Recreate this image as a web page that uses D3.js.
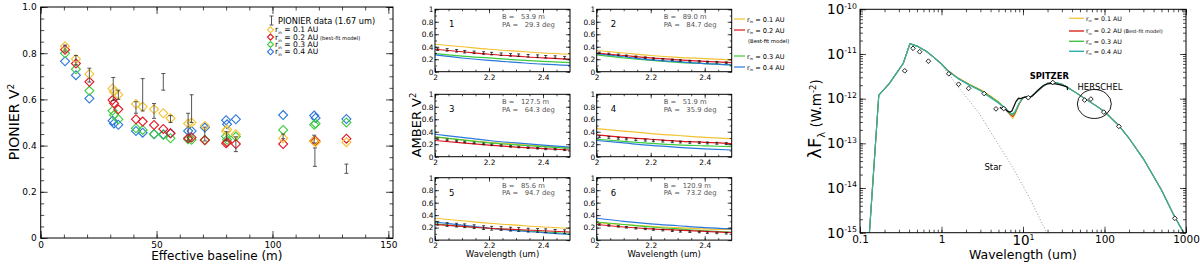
<!DOCTYPE html>
<html>
<head>
<meta charset="utf-8">
<script src="https://cdn.jsdelivr.net/npm/d3@7/dist/d3.min.js"></script>
<style>
  body { margin: 0; background: #fff; }
  svg { display: block; font-family: 'DejaVu Sans', sans-serif; }
</style>
</head>
<body>
<div class="chart"></div>
<script>
// ---------- data ----------
const rinValues = ['0.1', '0.2', '0.3', '0.4'];
const rinColors = ['#f2c230', '#e2141e', '#3ccc3c', '#2a78dc'];
const sedColors = ['#f2c84a', '#d8281e', '#46c046', '#2fb0b0'];

// PIONIER (left)
const pionBase = [10.5, 15.2, 21.0, 31.3, 33.5, 41.1, 44.0, 48.9, 52.9, 56.0, 63.6, 65.1, 70.8, 80.2, 84.2, 104.6, 118.0, 118.3, 131.9];
const pionV2 = [0.82, 0.77, 0.705, 0.645, 0.62, 0.565, 0.62, 0.55, 0.676, 0.515, 0.48, 0.56, 0.45, 0.44, 0.406, 0.44, 0.428, 0.35, 0.30];
const pionErr = [0.015, 0.02, 0.03, 0.05, 0.02, 0.025, 0.07, 0.032, 0.036, 0.015, 0.06, 0.06, 0.03, 0.02, 0.032, 0.01, 0.017, 0.04, 0.02];

const modelBase = [10.5, 15.2, 21.0, 31.0, 31.6, 33.5, 41.1, 44.0, 48.9, 52.9, 56.0, 63.6, 65.1, 70.8, 80.0, 80.4, 84.2, 104.6, 118.0, 118.6, 131.9];
const v2In01 = [0.83, 0.775, 0.71, 0.647, 0.633, 0.62, 0.58, 0.568, 0.557, 0.54, 0.518, 0.496, 0.50, 0.485, 0.463, 0.47, 0.449, 0.432, 0.42, 0.415, 0.415];
const v2In02 = [0.815, 0.755, 0.676, 0.597, 0.583, 0.557, 0.514, 0.504, 0.489, 0.472, 0.453, 0.432, 0.435, 0.423, 0.41, 0.415, 0.407, 0.407, 0.42, 0.42, 0.43];
const v2In03 = [0.80, 0.73, 0.637, 0.551, 0.532, 0.514, 0.475, 0.468, 0.45, 0.446, 0.432, 0.427, 0.425, 0.425, 0.439, 0.425, 0.439, 0.468, 0.49, 0.495, 0.50];
const v2In04 = [0.765, 0.705, 0.604, 0.508, 0.496, 0.49, 0.463, 0.456, 0.449, 0.449, 0.453, 0.463, 0.463, 0.478, 0.51, 0.492, 0.514, 0.532, 0.53, 0.52, 0.515];

// AMBER (middle)
const ambBase = ['53.9', '89.0', '127.5', '51.9', '85.6', '120.9'];
const ambPA = ['29.3', '84.7', '64.3', '35.9', '94.7', '73.2'];
const ambWave = [2.01, 2.045, 2.08, 2.11, 2.145, 2.18, 2.21, 2.245, 2.28, 2.31, 2.345, 2.38, 2.41, 2.445, 2.48];
const ambData = [
  [0.36, 0.35, 0.335, 0.32, 0.31, 0.30, 0.29, 0.28, 0.27, 0.265, 0.255, 0.25, 0.24, 0.235, 0.225],
  [0.30, 0.285, 0.27, 0.255, 0.24, 0.225, 0.21, 0.20, 0.19, 0.18, 0.17, 0.165, 0.155, 0.15, 0.145],
  [0.29, 0.27, 0.25, 0.235, 0.22, 0.205, 0.19, 0.18, 0.165, 0.155, 0.145, 0.135, 0.125, 0.12, 0.11],
  [0.32, 0.31, 0.295, 0.285, 0.275, 0.265, 0.255, 0.25, 0.24, 0.235, 0.23, 0.225, 0.22, 0.215, 0.21],
  [0.27, 0.25, 0.24, 0.23, 0.215, 0.20, 0.19, 0.185, 0.175, 0.17, 0.16, 0.155, 0.15, 0.14, 0.135],
  [0.25, 0.235, 0.22, 0.205, 0.19, 0.18, 0.17, 0.16, 0.15, 0.14, 0.135, 0.13, 0.12, 0.115, 0.11]
];
const ambErr = [0.02, 0.012, 0.012, 0.015, 0.03, 0.012];
const modelWave = [2.0, 2.1, 2.2, 2.3, 2.4, 2.5];
const ambIn01 = [[0.44, 0.40, 0.36, 0.33, 0.30, 0.28], [0.34, 0.30, 0.26, 0.23, 0.21, 0.19], [0.315, 0.27, 0.23, 0.20, 0.17, 0.145], [0.45, 0.41, 0.37, 0.34, 0.31, 0.29], [0.35, 0.31, 0.27, 0.24, 0.21, 0.19], [0.28, 0.25, 0.22, 0.20, 0.18, 0.17]];
const ambIn02 = [[0.36, 0.32, 0.28, 0.25, 0.22, 0.20], [0.30, 0.26, 0.22, 0.19, 0.165, 0.145], [0.26, 0.22, 0.185, 0.155, 0.13, 0.107], [0.35, 0.31, 0.28, 0.25, 0.23, 0.21], [0.25, 0.22, 0.19, 0.17, 0.15, 0.13], [0.25, 0.21, 0.18, 0.16, 0.14, 0.12]];
const ambIn03 = [[0.29, 0.25, 0.22, 0.19, 0.165, 0.145], [0.27, 0.22, 0.18, 0.15, 0.13, 0.11], [0.32, 0.27, 0.22, 0.19, 0.16, 0.135], [0.28, 0.245, 0.215, 0.19, 0.175, 0.16], [0.26, 0.22, 0.19, 0.16, 0.13, 0.11], [0.29, 0.25, 0.21, 0.18, 0.15, 0.13]];
const ambIn04 = [[0.27, 0.22, 0.18, 0.15, 0.12, 0.10], [0.29, 0.24, 0.19, 0.16, 0.13, 0.11], [0.36, 0.31, 0.26, 0.22, 0.185, 0.155], [0.26, 0.22, 0.18, 0.15, 0.125, 0.107], [0.29, 0.24, 0.19, 0.15, 0.12, 0.09], [0.35, 0.30, 0.26, 0.23, 0.20, 0.18]];

// SED (right)
const sedWave = [0.13, 0.17, 0.23, 0.34, 0.41, 0.5, 0.65, 0.8, 1.0, 1.2, 1.6, 2.2, 3.0, 4.0, 5.0, 6.0, 7.0, 7.5, 8.0, 9.0, 10, 11, 12, 14, 17, 20, 25, 30, 35, 45, 60, 80, 100, 150, 200, 300, 500, 700, 1000];
const sedIn04 = [9e-16, 1.2e-12, 2.2e-12, 6.2e-12, 1.7e-11, 1.5e-11, 1.15e-11, 8.5e-12, 6e-12, 4.2e-12, 2.8e-12, 2.0e-12, 1.5e-12, 1.05e-12, 8e-13, 6.2e-13, 4.8e-13, 4.6e-13, 5.2e-13, 8e-13, 1.05e-12, 1.1e-12, 1.05e-12, 1.3e-12, 1.8e-12, 2.2e-12, 2.3e-12, 2.1e-12, 1.8e-12, 1.35e-12, 9.5e-13, 6.8e-13, 5.1e-13, 2.5e-13, 1.3e-13, 4.5e-14, 9e-15, 2.6e-15, 8e-16];
const sedIn03 = [9e-16, 1.2e-12, 2.2e-12, 6.2e-12, 1.7e-11, 1.5e-11, 1.15e-11, 8.5e-12, 6e-12, 4.2e-12, 2.85e-12, 2.05e-12, 1.55e-12, 1.1e-12, 8.3e-13, 6.2e-13, 4.6e-13, 4.3e-13, 5.0e-13, 8e-13, 1.05e-12, 1.1e-12, 1.05e-12, 1.3e-12, 1.8e-12, 2.2e-12, 2.3e-12, 2.1e-12, 1.8e-12, 1.35e-12, 9.5e-13, 6.8e-13, 5.1e-13, 2.5e-13, 1.3e-13, 4.5e-14, 9e-15, 2.6e-15, 8e-16];
const sedIn02 = [9e-16, 1.2e-12, 2.2e-12, 6.2e-12, 1.7e-11, 1.5e-11, 1.15e-11, 8.5e-12, 6e-12, 4.2e-12, 2.85e-12, 2.05e-12, 1.55e-12, 1.1e-12, 8.2e-13, 6.0e-13, 4.4e-13, 4.0e-13, 4.8e-13, 7.8e-13, 1.05e-12, 1.1e-12, 1.05e-12, 1.3e-12, 1.8e-12, 2.2e-12, 2.3e-12, 2.1e-12, 1.8e-12, 1.35e-12, 9.5e-13, 6.8e-13, 5.1e-13, 2.5e-13, 1.3e-13, 4.5e-14, 9e-15, 2.6e-15, 8e-16];
const sedIn01 = [9e-16, 1.2e-12, 2.2e-12, 6.2e-12, 1.7e-11, 1.5e-11, 1.15e-11, 8.5e-12, 6e-12, 4.3e-12, 2.9e-12, 2.1e-12, 1.6e-12, 1.15e-12, 8.6e-13, 6.1e-13, 4.2e-13, 3.6e-13, 4.4e-13, 7.5e-13, 1.05e-12, 1.1e-12, 1.05e-12, 1.3e-12, 1.8e-12, 2.2e-12, 2.3e-12, 2.1e-12, 1.8e-12, 1.35e-12, 9.5e-13, 6.8e-13, 5.1e-13, 2.5e-13, 1.3e-13, 4.5e-14, 9e-15, 2.6e-15, 8e-16];

const starWave = [0.13, 0.17, 0.23, 0.34, 0.41, 0.5, 0.65, 0.8, 1.0, 1.2, 1.7, 2.9, 4.6, 7.4, 11.8, 19, 22];
const starFlux = [9e-16, 1.2e-12, 2.2e-12, 6.2e-12, 1.7e-11, 1.5e-11, 1.15e-11, 8.3e-12, 5.6e-12, 3.8e-12, 1.6e-12, 4.7e-13, 1.2e-13, 3e-14, 6.5e-15, 1.1e-15, 7e-16];

const spitzerWave = [5.2, 5.6, 5.9, 6.2, 6.5, 6.9, 7.3, 7.7, 8.2, 8.8, 9.4, 10.0, 10.6, 11.3, 12.0, 13.0, 14.0, 15.0, 16.5, 18.0, 20.0, 22.0, 25.0, 28.0, 31.0, 34.0, 35.0, 35.2];
const spitzerFlux = [6.4e-13, 5.9e-13, 6.3e-13, 5.6e-13, 5.2e-13, 5.0e-13, 5.3e-13, 6.6e-13, 8.6e-13, 1.02e-12, 1.0e-12, 1.05e-12, 1.08e-12, 1.1e-12, 1.06e-12, 1.15e-12, 1.32e-12, 1.5e-12, 1.75e-12, 2.0e-12, 2.15e-12, 2.2e-12, 2.15e-12, 2.05e-12, 1.95e-12, 1.85e-12, 1.8e-12, 1.55e-12];

const photWave = [0.354, 0.447, 0.54, 0.69, 1.23, 1.62, 2.15, 3.34, 4.66, 5.8, 11.6, 23.2, 57, 68, 98, 150, 730];
const photFlux = [4.2e-12, 1.34e-11, 1.12e-11, 6.9e-12, 3.6e-12, 2.1e-12, 1.7e-12, 1.3e-12, 5.9e-13, 6.0e-13, 1.05e-12, 2.3e-12, 9.3e-13, 9.8e-13, 5e-13, 2.4e-13, 2.1e-15];

// ---------- helpers ----------
const svg = d3.select('.chart').append('svg').attr('width', 1200).attr('height', 267);
const noLabel = () => '';
const strip = sel => sel.select('.domain').remove();

function boxAxes(g, x, y, o) {
  const [xl, xr] = x.range();
  const [yb, yt] = y.range();
  const add = (axis, tx, ty) => g.append('g').attr('transform', `translate(${tx},${ty})`).call(axis).call(strip);

  add(d3.axisBottom(x).tickValues(o.xMajor).tickSize(-o.big).tickPadding(o.padX).tickFormat(o.xFmt), 0, yb);
  add(d3.axisBottom(x).tickValues(o.xMinor).tickSize(-o.small).tickFormat(noLabel), 0, yb);
  add(d3.axisTop(x).tickValues(o.xMajor).tickSize(-o.big).tickFormat(noLabel), 0, yt);
  add(d3.axisTop(x).tickValues(o.xMinor).tickSize(-o.small).tickFormat(noLabel), 0, yt);
  add(d3.axisLeft(y).tickValues(o.yMajor).tickSize(-o.big).tickPadding(o.padY).tickFormat(o.yFmt), xl, 0);
  add(d3.axisLeft(y).tickValues(o.yMinor).tickSize(-o.small).tickFormat(noLabel), xl, 0);
  add(d3.axisRight(y).tickValues(o.yMajor).tickSize(-o.big).tickFormat(noLabel), xr, 0);
  add(d3.axisRight(y).tickValues(o.yMinor).tickSize(-o.small).tickFormat(noLabel), xr, 0);

  g.selectAll('g').attr('font-family', null).attr('font-size', null);
  g.selectAll('.tick line').attr('stroke', '#000').attr('stroke-width', 0.7);
  g.selectAll('.tick text').attr('font-size', o.font).attr('fill', '#000');

  g.append('rect')
    .attr('x', xl).attr('y', yt).attr('width', xr - xl).attr('height', yb - yt)
    .attr('fill', 'none').attr('stroke', '#000').attr('stroke-width', 1);
}

function clipFor(id, x, y) {
  const [xl, xr] = x.range();
  const [yb, yt] = y.range();
  svg.append('clipPath').attr('id', id)
    .append('rect').attr('x', xl).attr('y', yt).attr('width', xr - xl).attr('height', yb - yt);
  return `url(#${id})`;
}

function rinText(sel, value, size, note, noteSize) {
  sel.attr('font-size', size);
  sel.append('tspan').text('r');
  sel.append('tspan').attr('dy', size * 0.25).attr('font-size', size * 0.55).text('in');
  sel.append('tspan').attr('dy', -size * 0.25).text(` = ${value} AU`);
  if (note) sel.append('tspan').attr('font-size', noteSize).text(' ' + note);
}

const diamond = d3.symbol(d3.symbolSquare, 40);

// ---------- PIONIER panel ----------
const pX = d3.scaleLinear().domain([0, 152]).range([40.7, 393]);
const pY = d3.scaleLinear().domain([0, 1]).range([238, 7]);
const pion = svg.append('g');

boxAxes(pion, pX, pY, {
  xMajor: [0, 50, 100, 150], xMinor: d3.range(0, 151, 10),
  yMajor: d3.range(0, 1.01, 0.2), yMinor: d3.range(0, 1.01, 0.05),
  xFmt: d => String(d), yFmt: d => d === 0 ? '0' : d.toFixed(1),
  big: 7, small: 3.5, padX: 4, padY: 4, font: 9
});

[v2In04, v2In03, v2In02, v2In01].forEach((vals, k) => {
  const ci = 3 - k;
  pion.append('g').selectAll('path')
    .data(d3.zip(modelBase, vals))
    .join('path')
    .attr('d', diamond)
    .attr('transform', d => `translate(${pX(d[0])},${pY(d[1])}) rotate(45)`)
    .attr('fill', 'none')
    .attr('stroke', rinColors[ci])
    .attr('stroke-width', 1.1);
});

const pionPts = d3.zip(pionBase, pionV2, pionErr);
const eb = pion.append('g').attr('stroke', '#444').attr('stroke-width', 0.9).attr('fill', 'none');
eb.selectAll('path').data(pionPts).join('path')
  .attr('d', d => {
    const px = pX(d[0]), hi = pY(d[1] + d[2]), lo = pY(d[1] - d[2]);
    return `M${px},${hi}V${lo}M${px - 2},${hi}H${px + 2}M${px - 2},${lo}H${px + 2}`;
  });

// legend
const pl = pion.append('g');
pl.append('path').attr('d', 'M271.5,16V25M269.5,16H273.5M269.5,25H273.5')
  .attr('stroke', '#444').attr('stroke-width', 0.9).attr('fill', 'none');
pl.append('text').attr('x', 278).attr('y', 23.5).attr('font-size', 8.2).text('PIONIER data (1.67 um)');
rinValues.forEach((v, i) => {
  const yy = 29.8 + i * 7.3;
  pl.append('path').attr('d', d3.symbol(d3.symbolSquare, 18))
    .attr('transform', `translate(270.5,${yy}) rotate(45)`)
    .attr('fill', 'none').attr('stroke', rinColors[i]).attr('stroke-width', 1.1);
  rinText(pl.append('text').attr('x', 275).attr('y', yy + 2.6), v, 7.6, i === 1 ? '(best-fit model)' : null, 5.2);
});

pion.append('text').attr('transform', 'translate(19,122) rotate(-90)')
  .attr('text-anchor', 'middle').attr('font-size', 14)
  .call(t => { t.append('tspan').text('PIONIER V'); t.append('tspan').attr('dy', -5).attr('font-size', 9).text('2'); });
pion.append('text').attr('x', pX(76)).attr('y', 260)
  .attr('text-anchor', 'middle').attr('font-size', 12).text('Effective baseline (m)');

// ---------- AMBER panels ----------
const colX = [435, 596.7];
const rowY = [9.3, 94.3, 177.7];
const ambW = 135, ambH = 62.4;
const amb = svg.append('g');

ambData.forEach((vals, p) => {
  const x0 = colX[p % 2], y0 = rowY[Math.floor(p / 2)];
  const ax = d3.scaleLinear().domain([2, 2.5]).range([x0, x0 + ambW]);
  const ay = d3.scaleLinear().domain([0, 1]).range([y0 + ambH, y0]);
  const g = amb.append('g');

  const clip = clipFor('amb' + p, ax, ay);
  const line = d3.line().x(d => ax(d[0])).y(d => ay(d[1])).curve(d3.curveMonotoneX);
  const lines = g.append('g').attr('clip-path', clip).attr('fill', 'none').attr('stroke-width', 1.2);
  [[ambIn01, 0], [ambIn03, 2], [ambIn04, 3], [ambIn02, 1]].forEach(([arr, ci]) => {
    lines.append('path').attr('d', line(d3.zip(modelWave, arr[p]))).attr('stroke', rinColors[ci]);
  });

  const pts = d3.zip(ambWave, vals);
  const e = ambErr[p];
  g.append('g').attr('stroke', '#111').attr('stroke-width', 0.8)
    .selectAll('path').data(pts).join('path')
    .attr('d', d => {
      const px = ax(d[0]), hi = ay(d[1] + e), lo = ay(d[1] - e);
      return `M${px},${hi}V${lo}M${px - 1.5},${hi}H${px + 1.5}M${px - 1.5},${lo}H${px + 1.5}`;
    });

  boxAxes(g, ax, ay, {
    xMajor: [2, 2.2, 2.4], xMinor: d3.range(2, 2.5, 0.05),
    yMajor: d3.range(0, 1.01, 0.2), yMinor: d3.range(0, 1.01, 0.1),
    xFmt: d => String(+d.toFixed(1)), yFmt: d => String(+d.toFixed(1)),
    big: 4, small: 2, padX: 3, padY: 1.5, font: 7.4
  });

  g.append('text').attr('x', x0 + 14).attr('y', y0 + 18).attr('font-size', 8.5).text(String(p + 1));
  g.append('text').attr('x', x0 + 67).attr('y', y0 + 10).attr('font-size', 6.8).attr('fill', '#555')
    .style('white-space', 'pre').text(`B =   ${ambBase[p]} m`);
  g.append('text').attr('x', x0 + 67).attr('y', y0 + 17.5).attr('font-size', 6.8).attr('fill', '#555')
    .style('white-space', 'pre').text(`PA =   ${ambPA[p]} deg`);

  if (p >= 4) {
    g.append('text').attr('x', x0 + ambW / 2).attr('y', 257).attr('text-anchor', 'middle')
      .attr('font-size', 8.5).text('Wavelength (um)');
  }
});

amb.append('text').attr('transform', 'translate(421,125) rotate(-90)')
  .attr('text-anchor', 'middle').attr('font-size', 13)
  .call(t => { t.append('tspan').text('AMBER V'); t.append('tspan').attr('dy', -5).attr('font-size', 8.5).text('2'); });

const ambLegRows = [19, 30, 56, 67];
rinValues.forEach((v, i) => {
  const yy = ambLegRows[i];
  amb.append('line').attr('x1', 734).attr('x2', 745).attr('y1', yy).attr('y2', yy)
    .attr('stroke', rinColors[i]).attr('stroke-width', 1.2);
  rinText(amb.append('text').attr('x', 747).attr('y', yy + 2.5), v, 6.6, null, 0);
});
amb.append('text').attr('x', 748).attr('y', 42.5).attr('font-size', 5.3).text('(Best-fit model)');

// ---------- SED panel ----------
const sX = d3.scaleLog().domain([0.1, 1000]).range([860, 1186]);
const sY = d3.scaleLog().domain([1e-15, 1e-10]).range([232.7, 9.3]);
const sed = svg.append('g');
const sClip = clipFor('sed', sX, sY);
const sLine = d3.line().x(d => sX(d[0])).y(d => sY(d[1]));

const curves = sed.append('g').attr('clip-path', sClip).attr('fill', 'none');
curves.append('path').attr('d', sLine(d3.zip(starWave, starFlux)))
  .attr('stroke', '#888').attr('stroke-width', 0.9).attr('stroke-dasharray', '1,2');
[sedIn01, sedIn02, sedIn03, sedIn04].forEach((arr, i) => {
  curves.append('path').attr('d', sLine(d3.zip(sedWave, arr)))
    .attr('stroke', sedColors[i]).attr('stroke-width', 1.1);
});
curves.append('path').attr('d', sLine(d3.zip(spitzerWave, spitzerFlux)))
  .attr('stroke', '#111').attr('stroke-width', 1.3);

curves.append('g').selectAll('path')
  .data(d3.zip(photWave, photFlux))
  .join('path')
  .attr('d', d3.symbol(d3.symbolSquare, 11))
  .attr('transform', d => `translate(${sX(d[0])},${sY(d[1])}) rotate(45)`)
  .attr('fill', '#fff').attr('stroke', '#000').attr('stroke-width', 0.8);

sed.append('ellipse').attr('cx', sX(75)).attr('cy', sY(7.6e-13)).attr('rx', 17).attr('ry', 14.5)
  .attr('fill', 'none').attr('stroke', '#000').attr('stroke-width', 0.9);
sed.append('text').attr('x', sX(21)).attr('y', sY(2.8e-12)).attr('text-anchor', 'middle')
  .attr('font-size', 8.4).attr('font-weight', 'bold').text('SPITZER');
sed.append('text').attr('x', sX(88)).attr('y', sY(1.56e-12)).attr('text-anchor', 'middle')
  .attr('font-size', 8.4).text('HERSCHEL');
sed.append('text').attr('x', sX(4.3)).attr('y', sY(2.5e-14)).attr('text-anchor', 'middle')
  .attr('font-size', 8.5).text('Star');

boxAxes(sed, sX, sY, {
  xMajor: [0.1, 1, 10, 100, 1000], xMinor: sX.ticks(),
  yMajor: [1e-15, 1e-14, 1e-13, 1e-12, 1e-11, 1e-10], yMinor: sY.ticks(),
  xFmt: d => String(d), yFmt: () => '10',
  big: 6, small: 3, padX: 3, padY: 3, font: 10.5
});
sed.selectAll('.tick text')
  .filter(function () { return d3.select(this).text() === '10'; })
  .attr('font-size', 13.5)
  .each(function (d) {
    d3.select(this).append('tspan').attr('dy', -5.5).attr('font-size', 7.8).text(String(Math.round(Math.log10(d))));
  });

sed.append('text').attr('transform', 'translate(821,119) rotate(-90)')
  .attr('text-anchor', 'middle')
  .call(t => {
    t.append('tspan').attr('font-size', 18).text('λF');
    t.append('tspan').attr('font-size', 10).attr('dy', 4).text('λ');
    t.append('tspan').attr('font-size', 13.5).attr('dy', -4).text(' (W.m');
    t.append('tspan').attr('font-size', 8.5).attr('dy', -5).text('-2');
    t.append('tspan').attr('font-size', 13.5).attr('dy', 5).text(')');
  });
sed.append('text').attr('x', (860 + 1186) / 2).attr('y', 259).attr('text-anchor', 'middle')
  .attr('font-size', 12.5).text('Wavelength (um)');

const sedLegRows = [18.3, 31, 41.3, 51.3];
rinValues.forEach((v, i) => {
  const yy = sedLegRows[i];
  sed.append('line').attr('x1', 1069).attr('x2', 1084).attr('y1', yy).attr('y2', yy)
    .attr('stroke', sedColors[i]).attr('stroke-width', 1.4);
  rinText(sed.append('text').attr('x', 1086).attr('y', yy + 2.3), v, 6.3, i === 1 ? '(Best-fit model)' : null, 5);
});
</script>
</body>
</html>
